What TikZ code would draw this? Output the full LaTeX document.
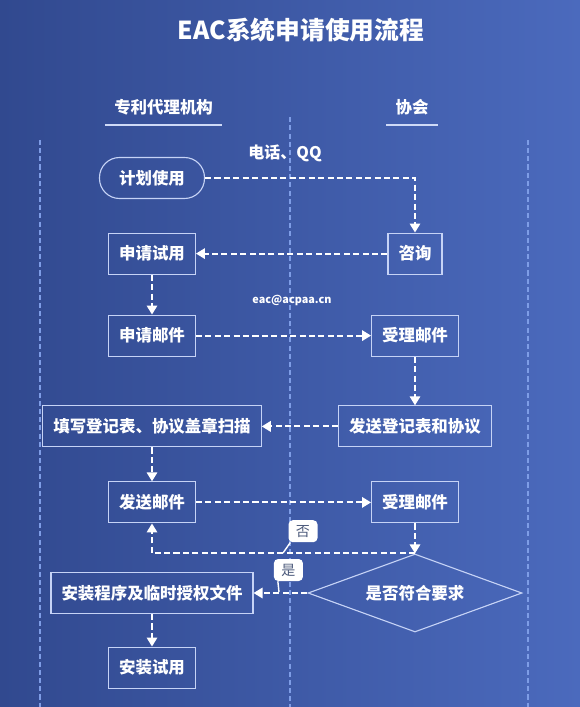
\documentclass[tikz,border=0pt]{standalone}
\usepackage{fontspec}
\setmainfont{Noto Sans CJK SC}
\usepackage{xcolor}
\usetikzlibrary{positioning, arrows.meta, shapes.geometric}

\definecolor{bgL}{HTML}{31498F}
\definecolor{bgR}{HTML}{4B6ABD}
\definecolor{lanec}{HTML}{7E9DE6}
\definecolor{boxline}{HTML}{C6D3F6}
\definecolor{labtext}{HTML}{4D5B7C}

\begin{document}
\begin{tikzpicture}[
  every node/.style={font=\fontsize{11.7pt}{14pt}\selectfont\bfseries, text=white},
  arr/.style={-{Triangle[length=6.4pt, width=7.4pt]}, white, line width=1.4pt,
              dash pattern=on 4.3pt off 2.4pt},
  lane/.style={lanec, line width=1.1pt, dash pattern=on 3.6pt off 2.2pt},
  uline/.style={boxline!85!white, line width=1.4pt},
  box/.style={draw=boxline, line width=0.8pt, minimum height=1.025cm,
              inner xsep=0.2625cm, align=center},
  pill/.style={box, rounded corners=0.5cm, minimum width=2.625cm},
  dec/.style={draw=boxline, line width=0.8pt, diamond, aspect=2.74, inner sep=0pt,
              minimum width=5.35cm, minimum height=1.95cm},
  tag/.style={fill=white, rounded corners=3pt, minimum width=0.725cm, minimum height=0.55cm,
              inner sep=1pt, text=labtext, font=\fontsize{10pt}{12pt}\selectfont},
  tail/.style={white, line width=1pt}
]

%% Background
\shade[left color=bgL, right color=bgR] (0,0) rectangle (14.5,-17.675);
\useasboundingbox (0,0) rectangle (14.5,-17.675);

%% Title
\node (title) at (7.525,-0.75) {\fontsize{17.6pt}{21pt}\selectfont EAC系统申请使用流程};

%% Lane headers
\node[inner xsep=0.225cm] (agency) at (4.09,-2.675) {专利代理机构};
\node[inner xsep=0.225cm] (assoc) at (10.3,-2.675) {协会};
\draw[uline] ([yshift=-0.45cm]agency.west) -- ([yshift=-0.45cm]agency.east);
\draw[uline] ([yshift=-0.45cm]assoc.west) -- ([yshift=-0.45cm]assoc.east);

%% Lane lines
\draw[lane] (1.0,-3.5) -- (1.0,-17.675);
\draw[lane] (7.25,-2.93) -- (7.25,-17.675);
\draw[lane] (13.2,-3.5) -- (13.2,-17.675);

%% 1. Start
\node[pill] (plan) at (3.8,-4.45) {计划使用};

%% 2. Consult / apply
\node[box] (consult) at (10.375,-6.34) {咨询};
\node[box] (apply) at (3.8,-6.34) {申请试用};

%% 3. Mail exchange
\node[box] (mailA) at (3.8,-8.39) {申请邮件};
\node[box] (recvA) at (10.375,-8.39) {受理邮件};

%% 4. Forms
\node[box] (sendForm) at (10.375,-10.66) {发送登记表和协议};
\node[box] (fill) at (3.8,-10.66) {填写登记表、协议盖章扫描};

%% 5. Second mail
\node[box] (sendMail) at (3.8,-12.56) {发送邮件};
\node[box] (recvB) at (10.375,-12.56) {受理邮件};

%% 6. Decision
\node[dec] (check) at (10.375,-14.825) {是否符合要求};

%% 7. Install
\node[box] (install) at (3.8,-14.825) {安装程序及临时授权文件};
\node[box] (tryout) at (3.8,-16.69) {安装试用};

%% Side texts
\node[font=\fontsize{11.4pt}{13pt}\selectfont\bfseries] (phone) at (7.125,-3.83) {电话、QQ};
\node[font=\fontsize{7.7pt}{9pt}\selectfont\bfseries] (email) at (7.3,-7.5) {eac@acpaa.cn};

%% ---- Arrows ----
\draw[arr] (plan.east) -| (consult.north);
\draw[arr] (consult.west) -- (apply.east);
\draw[arr] (apply.south) -- (mailA.north);
\draw[arr] (mailA.east) -- (recvA.west);
\draw[arr] (recvA.south) -- (sendForm.north);
\draw[arr] (sendForm.west) -- (fill.east);
\draw[arr] (fill.south) -- (sendMail.north);
\draw[arr] (sendMail.east) -- (recvB.west);
\draw[arr] (recvB.south) -- (check.north);

% no -> back to mail
\draw[arr] (check.north) -| (sendMail.south);
% yes -> install
\draw[arr] (check.west) -- (install.east);
\draw[arr] (install.south) -- (tryout.north);

%% ---- Branch tags ----
\coordinate (noTip) at (7.075,-13.825);
\coordinate (yesTip) at (6.975,-14.8);
\node[tag] (no) at (7.575,-13.28) {否};
\node[tag] (yes) at (7.21,-14.25) {是};
\draw[tail] ([xshift=1.5pt]no.south west) -- (noTip);
\draw[tail] ([xshift=3pt]yes.south west) -- (yesTip);

\end{tikzpicture}
\end{document}
